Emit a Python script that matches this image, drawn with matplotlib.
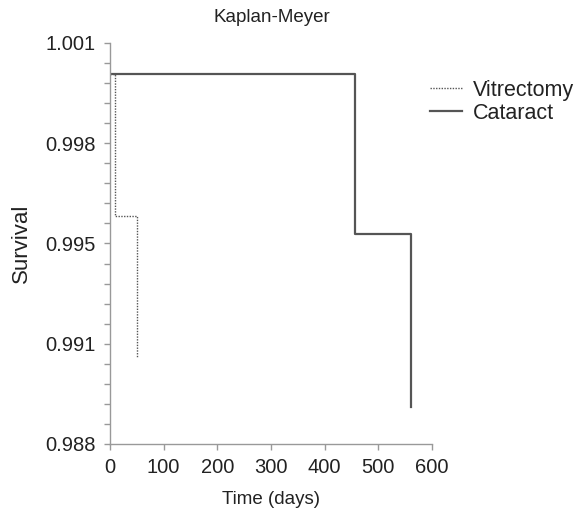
import matplotlib
matplotlib.use("Agg")
import matplotlib.pyplot as plt
from matplotlib.ticker import AutoMinorLocator

plt.rcParams['font.family'] = ['Liberation Sans', 'DejaVu Sans']

# Kaplan-Meyer step data
vit_days = [0, 9, 50]
vit_surv = [1.0, 0.9954, 0.9908]
cat_days = [0, 456, 560]
cat_surv = [1.0, 0.9948, 0.9892]

y_ticks = [0.988, 0.99125, 0.9945, 0.99775, 1.001]
y_labels = ['0.988', '0.991', '0.995', '0.998', '1.001']
x_ticks = [0, 100, 200, 300, 400, 500, 600]

fig = plt.figure(figsize=(5.85, 5.13), dpi=100)
ax = fig.add_axes([110/585, 1 - 444/513, 322/585, 401/513])

ax.step(vit_days, vit_surv, where='post', color='#555555', lw=1.0,
        linestyle=(0, (1, 1)), label='Vitrectomy')
ax.step(cat_days, cat_surv, where='post', color='#555555', lw=1.6,
        label='Cataract')

ax.set_xlim(0, 600)
ax.set_ylim(0.988, 1.001)
ax.set_xticks(x_ticks)
ax.set_yticks(y_ticks)
ax.set_yticklabels(y_labels)
ax.yaxis.set_minor_locator(AutoMinorLocator(5))

for side in ['top', 'right']:
    ax.spines[side].set_visible(False)
for side in ['left', 'bottom']:
    ax.spines[side].set_color('#999999')
    ax.spines[side].set_linewidth(1.0)

ax.tick_params(which='both', direction='out', length=4, width=1.0,
               color='#999999', labelsize=14.5, labelcolor='#222222')
ax.tick_params(axis='x', pad=6)
ax.tick_params(axis='y', pad=6)

ax.set_xlabel('Time (days)', fontsize=13.5, color='#222222', labelpad=10)
ax.set_ylabel('Survival', fontsize=16, color='#222222', labelpad=10)

fig.text(272/585, 1 - 18/513, 'Kaplan-Meyer', fontsize=13.5, color='#222222',
         ha='center', va='center')

fig.legend(loc='upper left', bbox_to_anchor=(419/585, 1 - 69/513),
           frameon=False, fontsize=15.5, handlelength=1.5, handletextpad=0.5,
           labelspacing=0.1, borderpad=0, labelcolor='#222222')

fig.savefig('out.png', dpi=100)
